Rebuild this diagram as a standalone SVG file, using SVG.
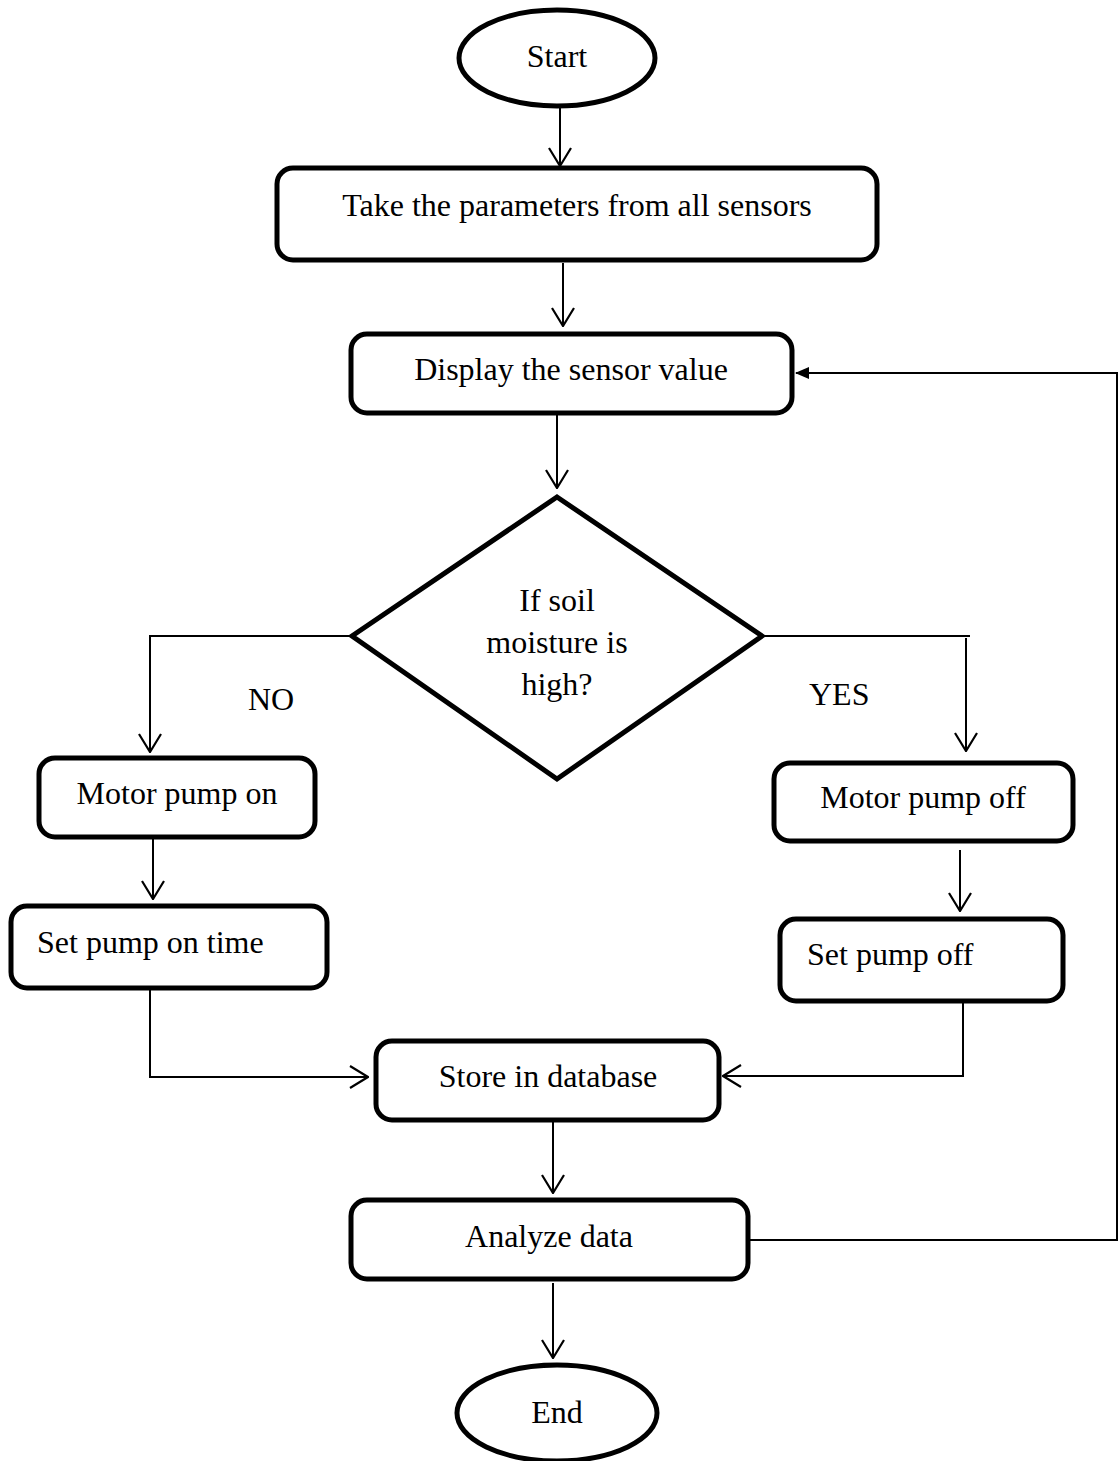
<svg xmlns="http://www.w3.org/2000/svg" width="1120" height="1461" viewBox="0 0 1120 1461">
<style>
.node{fill:#fff;stroke:#000;stroke-width:5}
.t{font-family:"Liberation Serif","Times New Roman",serif;font-size:32px;fill:#000}
.c{text-anchor:middle}
.ln{fill:none;stroke:#000;stroke-width:2}
</style>
<defs>
<marker id="open" viewBox="0 0 20 24" refX="19" refY="12" markerWidth="20" markerHeight="24" markerUnits="userSpaceOnUse" orient="auto">
<path d="M1,1 L19,12 L1,23" fill="none" stroke="#000" stroke-width="2.2"/>
</marker>
<marker id="fill" viewBox="0 0 14 12" refX="13" refY="6" markerWidth="14" markerHeight="12" markerUnits="userSpaceOnUse" orient="auto">
<path d="M0,0 L14,6 L0,12 Z" fill="#000"/>
</marker>
</defs>
<rect width="1120" height="1461" fill="#fff"/>
<g id="connectors">
<path class="ln" d="M560,107 V166" marker-end="url(#open)"/>
<path class="ln" d="M563,263 V326" marker-end="url(#open)"/>
<path class="ln" d="M557,414 V488" marker-end="url(#open)"/>
<path class="ln" d="M352,636 H150 V752" marker-end="url(#open)"/>
<path class="ln" d="M762,636 H970"/>
<path class="ln" d="M966,638 V751" marker-end="url(#open)"/>
<path class="ln" d="M153,839 V899" marker-end="url(#open)"/>
<path class="ln" d="M960,850 V911" marker-end="url(#open)"/>
<path class="ln" d="M150,989 V1077 H368" marker-end="url(#open)"/>
<path class="ln" d="M963,1003 V1076 H723" marker-end="url(#open)"/>
<path class="ln" d="M553,1122 V1193" marker-end="url(#open)"/>
<path class="ln" d="M553,1283 V1358" marker-end="url(#open)"/>
<path class="ln" d="M750,1240 H1117 V373 H796" marker-end="url(#fill)"/>
</g>
<g id="start">
<ellipse class="node" cx="557" cy="58" rx="98" ry="48"/>
<text class="t c" x="557" y="67">Start</text>
</g>
<g id="take-params">
<rect class="node" x="277" y="168" width="600" height="92" rx="16"/>
<text class="t c" x="577" y="216">Take the parameters from all sensors</text>
</g>
<g id="display">
<rect class="node" x="351" y="334" width="441" height="79" rx="16"/>
<text class="t c" x="571" y="380">Display the sensor value</text>
</g>
<g id="decision">
<polygon class="node" points="557,497 762,636 557,779 352,636"/>
<text class="t c" x="557" y="611">If soil</text>
<text class="t c" x="557" y="653">moisture is</text>
<text class="t c" x="557" y="695">high?</text>
</g>
<text class="t" x="248" y="710">NO</text>
<text class="t" x="809" y="705">YES</text>
<g id="pump-on">
<rect class="node" x="39" y="758" width="276" height="79" rx="16"/>
<text class="t c" x="177" y="804">Motor pump on</text>
</g>
<g id="set-on">
<rect class="node" x="11" y="906" width="316" height="82" rx="16"/>
<text class="t" x="37" y="953">Set pump on time</text>
</g>
<g id="pump-off">
<rect class="node" x="774" y="763" width="299" height="78" rx="16"/>
<text class="t c" x="923" y="808">Motor pump off</text>
</g>
<g id="set-off">
<rect class="node" x="780" y="919" width="283" height="82" rx="16"/>
<text class="t" x="807" y="965">Set pump off</text>
</g>
<g id="store">
<rect class="node" x="376" y="1041" width="343" height="79" rx="16"/>
<text class="t c" x="548" y="1087">Store in database</text>
</g>
<g id="analyze">
<rect class="node" x="351" y="1200" width="397" height="79" rx="16"/>
<text class="t c" x="549" y="1247">Analyze data</text>
</g>
<g id="end">
<ellipse class="node" cx="557" cy="1413" rx="100" ry="48"/>
<text class="t c" x="557" y="1423">End</text>
</g>
</svg>
